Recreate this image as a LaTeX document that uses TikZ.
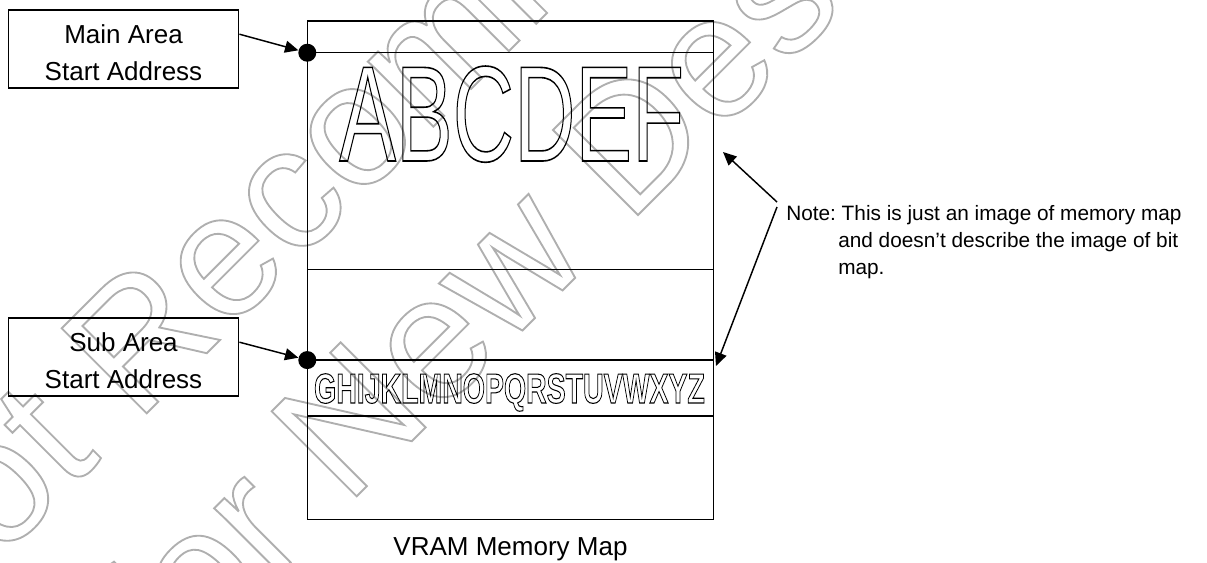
\documentclass[tikz,border=0pt]{standalone}
\usepackage{fontspec}
\setmainfont{Liberation Sans}
\usepackage{xcolor}
\definecolor{wmgray}{RGB}{175,175,175}
\usetikzlibrary{arrows.meta, positioning}

% stroke-only glyphs (text render mode 1)
\newcommand{\outlinetext}[2]{\special{pdf:literal direct #1 w 1 Tr}#2\special{pdf:literal direct 0 Tr}}
% two-line label, set a little below the box centre
\newcommand{\lbltext}[2]{\raisebox{-9.3pt}[0pt][0pt]{\begin{tabular}{@{}c@{}}#1\\#2\end{tabular}}}

\begin{document}
\begin{tikzpicture}[x=0.75pt, y=-0.75pt,
    lbl/.style={draw, line width=1.1pt, minimum width=172.8pt, minimum height=58.5pt,
                inner sep=0pt, font=\fontsize{19.5}{28}\selectfont},
    region/.style={draw, line width=1.1pt, minimum width=304.5pt, inner sep=0pt, outer sep=0pt},
    addr/.style={circle, fill, inner sep=0pt, minimum size=13.5pt},
    ptr/.style={-{Triangle[length=10pt, width=9pt]}, line width=1.1pt},
    wmark/.style={text=wmgray, rotate=45, anchor=base west, inner sep=0pt,
                  font=\fontsize{131}{131}\selectfont}]

\useasboundingbox (0,0) rectangle (1207,563);

% Watermark
\node[wmark] (wm1) at (-90,650) {\outlinetext{1.4}{Not Recommended}};
\node[wmark] (wm2) at (168,685) {\outlinetext{1.4}{for New Design}};

% VRAM memory map
\node[region, minimum height=23.8pt, anchor=north] (top) at (510.3,21) {};
\node[region, minimum height=162.5pt, below=0pt of top] (mainarea) {};
\node[region, minimum height=68pt, below=0pt of mainarea] (gap) {};
\node[region, minimum height=41.8pt, below=0pt of gap] (subarea) {};
\node[region, minimum height=77.7pt, below=0pt of subarea] (bottom) {};

\node[anchor=base, xscale=0.625, inner sep=0pt, font=\fontsize{102}{102}\selectfont]
    (maintext) at (511.7,161) {\outlinetext{1.2}{ABCDEF}};
\node[anchor=base, xscale=0.678, inner sep=0pt, font=\bfseries\fontsize{31.5}{32}\selectfont]
    (subtext) at (509.5,403) {\outlinetext{0.8}{GHIJKLMNOPQRSTUVWXYZ}};

\node[anchor=base, font=\fontsize{19.5}{24}\selectfont] (caption) at (510.5,555) {VRAM Memory Map};

% Start addresses
\node[addr] (mainstart) at (mainarea.north west) {};
\node[addr] (substart) at (subarea.north west) {};

\node[lbl] (mainlbl) at (123.5,49.2) {\lbltext{Main Area}{Start Address}};
\node[lbl] (sublbl) at (123.5,357.2) {\lbltext{Sub Area}{Start Address}};

\draw[ptr] ([yshift=11.25pt]mainlbl.east) -- (mainstart);
\draw[ptr] ([yshift=11.25pt]sublbl.east) -- (substart);

% Note (base = last line)
\node[anchor=base west, inner sep=0pt, align=left, font=\fontsize{15.6}{20.25}\selectfont] (note) at (786,274)
    {Note:\ This is just an image of memory map\\
     \hspace*{39pt}and doesn’t describe the image of bit\\
     \hspace*{39pt}map.};

\coordinate (notefootA) at (777,202);
\coordinate (notefootB) at (777,207);
\coordinate (mainend) at (723,152);
\coordinate (subend) at (716,366);
\draw[ptr] (notefootA) -- (mainend);
\draw[ptr] (notefootB) -- (subend);

\end{tikzpicture}
\end{document}
